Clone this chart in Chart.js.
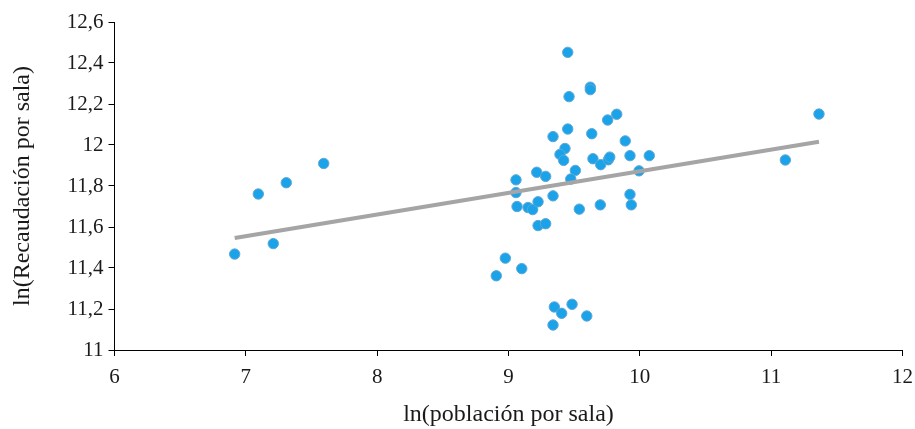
<!DOCTYPE html>
<html>
<head>
<meta charset="utf-8">
<script src="https://cdn.jsdelivr.net/npm/chart.js@4.4.1/dist/chart.umd.min.js"></script>
<style>
  html, body { margin: 0; padding: 0; background: #fff; }
  #wrap { width: 915px; height: 429px; position: relative; }
</style>
</head>
<body>
<div id="wrap"><canvas id="c" width="915" height="429"></canvas></div>
<script>
// ln(población por sala)
const popX = [
  6.915, 7.095, 7.209, 7.308, 7.593,
  9.451, 9.623, 9.623, 9.461, 9.755, 9.824, 9.451, 9.339, 9.634, 9.889,
  9.430, 9.392, 9.420, 9.643, 9.702, 9.760, 9.771, 9.925, 10.072, 9.509,
  9.994, 9.215, 9.283, 9.057, 9.474, 9.057, 9.339, 9.065, 9.149, 9.184,
  9.225, 9.539, 9.699, 9.925, 9.935, 9.225, 9.283, 8.976, 9.101, 8.907,
  9.349, 9.484, 9.405, 9.596, 9.339,
  11.108, 11.364
];
// ln(Recaudación por sala)
const recY = [
  11.468, 11.761, 11.519, 11.816, 11.910,
  12.452, 12.282, 12.270, 12.236, 12.122, 12.150, 12.078, 12.041, 12.055, 12.020,
  11.983, 11.954, 11.925, 11.933, 11.904, 11.928, 11.941, 11.948, 11.948, 11.876,
  11.874, 11.867, 11.847, 11.830, 11.834, 11.768, 11.752, 11.700, 11.695, 11.685,
  11.723, 11.687, 11.708, 11.759, 11.708, 11.607, 11.616, 11.448, 11.397, 11.362,
  11.210, 11.223, 11.179, 11.166, 11.122,
  11.927, 12.151
];
// Linear trend line end points
const trendX = [6.915, 11.364];
const trendY = [11.546, 12.016];

const xTicks = [6, 7, 8, 9, 10, 11, 12];
const yTicks = [11, 11.2, 11.4, 11.6, 11.8, 12, 12.2, 12.4, 12.6];

const xTitle = 'ln(población por sala)';
const yTitle = 'ln(Recaudación por sala)';

const FONT = "'Liberation Serif', 'Times New Roman', serif";

const points = popX.map((x, i) => ({ x: x, y: recY[i] }));
const trend = trendX.map((x, i) => ({ x: x, y: trendY[i] }));

new Chart(document.getElementById('c'), {
  type: 'scatter',
  data: {
    datasets: [
      {
        type: 'line',
        data: trend,
        borderColor: '#A5A5A5',
        borderWidth: 4,
        pointRadius: 0,
        fill: false,
        order: 0
      },
      {
        data: points,
        backgroundColor: '#1AA3E9',
        borderColor: '#5FA6D6',
        borderWidth: 1,
        pointRadius: 5.2,
        order: 1
      }
    ]
  },
  options: {
    responsive: false,
    animation: false,
    devicePixelRatio: 1,
    layout: { padding: { top: 22, right: 12.5, left: 0, bottom: 0 } },
    plugins: { legend: { display: false }, tooltip: { enabled: false } },
    scales: {
      x: {
        type: 'linear',
        min: 6, max: 12,
        afterBuildTicks: (s) => { s.ticks = xTicks.map(v => ({ value: v })); },
        afterFit: (s) => { s.height = 79; s.paddingLeft = 0; s.paddingRight = 0; },
        grid: { display: true, drawOnChartArea: false, drawTicks: true, tickLength: 6, color: '#000', lineWidth: 1 },
        border: { display: true, color: '#000', width: 1 },
        ticks: { color: '#1a1a1a', font: { family: FONT, size: 21 }, padding: 9, maxRotation: 0,
                 callback: (v) => String(v) },
        title: { display: true, text: xTitle, color: '#1a1a1a', font: { family: FONT, size: 24 }, padding: { top: 1, bottom: 0 } }
      },
      y: {
        type: 'linear',
        min: 11, max: 12.6,
        afterBuildTicks: (s) => { s.ticks = yTicks.map(v => ({ value: v })); },
        afterFit: (s) => { s.width = 114.5; s.paddingTop = 0; s.paddingBottom = 0; },
        grid: { display: true, drawOnChartArea: false, drawTicks: true, tickLength: 6, color: '#000', lineWidth: 1 },
        border: { display: true, color: '#000', width: 1 },
        ticks: { color: '#1a1a1a', font: { family: FONT, size: 21 }, padding: 5,
                 callback: (v) => (Math.round(v * 10) / 10).toString().replace('.', ',') },
        title: { display: true, text: yTitle, color: '#1a1a1a', font: { family: FONT, size: 24 }, padding: { top: 8, bottom: 8 } }
      }
    }
  }
});
</script>
</body>
</html>
